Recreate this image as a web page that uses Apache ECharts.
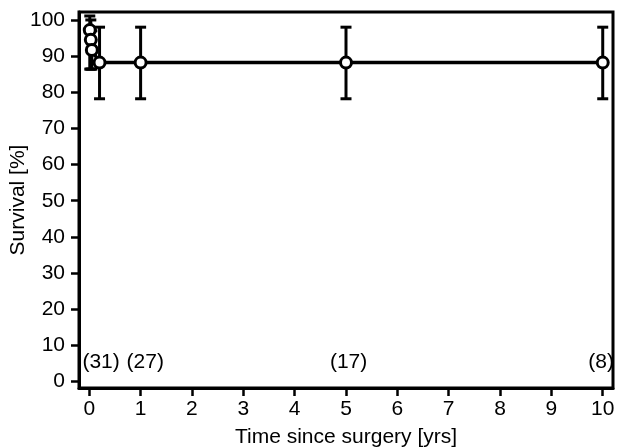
<!DOCTYPE html>
<html>
<head>
<meta charset="utf-8">
<script src="https://cdn.jsdelivr.net/npm/echarts@6/dist/echarts.min.js"></script>
<style>
  html, body { margin: 0; padding: 0; background: #fff; }
  #main { width: 617px; height: 447px; }
</style>
</head>
<body>
<div id="main"></div>
<script>
// survival points (years, %)
var years    = [0.01, 0.03, 0.05, 0.2, 1, 5, 10];
var survival = [97.2, 94.5, 91.7, 88.2, 88.2, 88.2, 88.2];
var errLow   = [86.4, 86.4, 86.4, 78.2, 78.2, 78.2, 78.2];
var errHigh  = [101.1, 100, 97, 98, 98, 98, 98];

// number at risk labels
var riskX      = [0.23, 1.09, 5.05, 9.97];
var riskLabels = ['(31)', '(27)', '(17)', '(8)'];
var riskY      = 5.4;

var xTicks = [0, 1, 2, 3, 4, 5, 6, 7, 8, 9, 10];
var yTicks = [0, 10, 20, 30, 40, 50, 60, 70, 80, 90, 100];

var font = 'Liberation Sans';

var chart = echarts.init(document.getElementById('main'));

var lineData = years.map(function(x, i) { return [x, survival[i]]; });
var errData = years.map(function(x, i) { return [x, errLow[i], errHigh[i]]; });
var riskData = riskX.map(function(x, i) { return [x, riskY, riskLabels[i]]; });

var option = {
    animation: false,
    grid: {
        left: 79, right: 4, top: 12, bottom: 59,
        outerBoundsMode: 'none',
        containLabel: false,
        show: true, borderColor: '#000', borderWidth: 3
    },
    xAxis: {
        type: 'value',
        min: -0.2, max: 10.2,
        splitLine: { show: false },
        axisLine: { onZero: false, lineStyle: { color: '#000', width: 3 } },
        axisTick: { customValues: xTicks, length: 8, lineStyle: { color: '#000', width: 2.5 } },
        axisLabel: { customValues: xTicks, color: '#000', fontFamily: font, fontSize: 21, margin: 11 },
        name: 'Time since surgery [yrs]',
        nameLocation: 'middle',
        nameGap: 39,
        nameMoveOverlap: false,
        nameTextStyle: { color: '#000', fontFamily: font, fontSize: 21 }
    },
    yAxis: {
        type: 'value',
        min: -1.8, max: 102.2,
        splitLine: { show: false },
        axisLine: { onZero: false, lineStyle: { color: '#000', width: 3 } },
        axisTick: { customValues: yTicks, length: 8, lineStyle: { color: '#000', width: 2.5 } },
        axisLabel: { customValues: yTicks, color: '#000', fontFamily: font, fontSize: 21, margin: 14 },
        name: 'Survival [%]',
        nameLocation: 'middle',
        nameGap: 50,
        nameMoveOverlap: false,
        nameTextStyle: { color: '#000', fontFamily: font, fontSize: 21 }
    },
    series: [
        {
            type: 'custom',
            data: errData,
            z: 2,
            renderItem: function(params, api) {
                var x = api.value(0);
                var lo = api.coord([x, api.value(1)]);
                var hi = api.coord([x, api.value(2)]);
                var w = 5.5;
                var st = { stroke: '#000', lineWidth: 3 };
                return {
                    type: 'group',
                    children: [
                        { type: 'line', shape: { x1: lo[0], y1: lo[1], x2: hi[0], y2: hi[1] }, style: st },
                        { type: 'line', shape: { x1: lo[0] - w, y1: lo[1], x2: lo[0] + w, y2: lo[1] }, style: st },
                        { type: 'line', shape: { x1: hi[0] - w, y1: hi[1], x2: hi[0] + w, y2: hi[1] }, style: st }
                    ]
                };
            }
        },
        {
            type: 'line',
            data: lineData,
            z: 3,
            symbol: 'circle',
            symbolSize: 11,
            showAllSymbol: true,
            lineStyle: { color: '#000', width: 3.5 },
            itemStyle: { color: '#fff', borderColor: '#000', borderWidth: 3 }
        },
        {
            type: 'scatter',
            data: riskData,
            symbolSize: 0,
            itemStyle: { opacity: 1 },
            label: {
                show: true,
                position: 'inside',
                formatter: function(p) { return p.value[2]; },
                color: '#000',
                opacity: 1,
                textBorderWidth: 0,
                fontFamily: font,
                fontSize: 21
            }
        }
    ]
};

chart.setOption(option);
</script>
</body>
</html>
